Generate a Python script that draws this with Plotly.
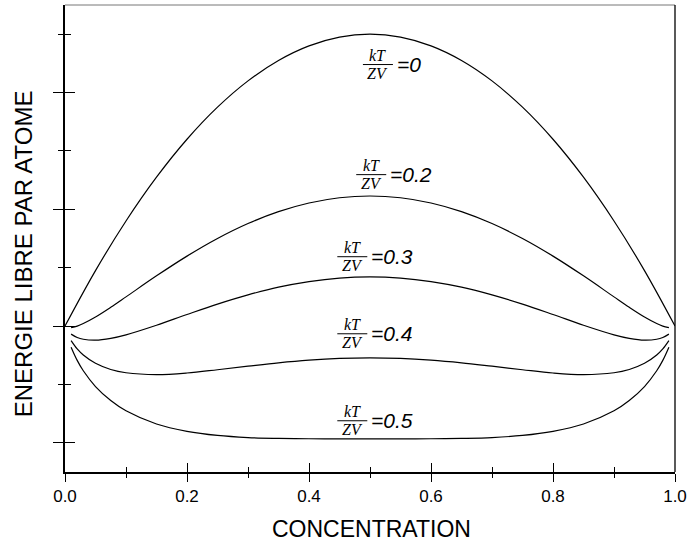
import plotly.graph_objects as go

# ---- data ----
conc = [0.01, 0.02, 0.03, 0.05, 0.075, 0.1, 0.15, 0.2, 0.25, 0.3, 0.35, 0.4, 0.45, 0.5,
        0.55, 0.6, 0.65, 0.7, 0.75, 0.8, 0.85, 0.9, 0.925, 0.95, 0.97, 0.98, 0.99]
conc_t0 = [0.0, 0.05, 0.1, 0.15, 0.2, 0.25, 0.3, 0.35, 0.4, 0.45, 0.5,
           0.55, 0.6, 0.65, 0.7, 0.75, 0.8, 0.85, 0.9, 0.95, 1.0]

energy_t0 = [0.0, 0.0475, 0.09, 0.1275, 0.16, 0.1875, 0.21, 0.2275, 0.24, 0.2475, 0.25,
             0.2475, 0.24, 0.2275, 0.21, 0.1875, 0.16, 0.1275, 0.09, 0.0475, 0.0]
energy_t02 = [-0.0013, 0.0000, 0.0022, 0.0078, 0.0161, 0.0250, 0.0430, 0.0599, 0.0750, 0.0878,
              0.0980, 0.1054, 0.1099, 0.1114, 0.1099, 0.1054, 0.0980, 0.0878, 0.0750, 0.0599,
              0.0430, 0.0250, 0.0161, 0.0078, 0.0022, 0.0000, -0.0013]
energy_t03 = [-0.0069, -0.0098, -0.0113, -0.0121, -0.0105, -0.0075, 0.0007, 0.0099, 0.0188, 0.0267,
              0.0333, 0.0381, 0.0411, 0.0421, 0.0411, 0.0381, 0.0333, 0.0267, 0.0188, 0.0099,
              0.0007, -0.0075, -0.0105, -0.0121, -0.0113, -0.0098, -0.0069]
energy_t04 = [-0.0125, -0.0196, -0.0248, -0.0319, -0.0372, -0.0400, -0.0416, -0.0402, -0.0374, -0.0344,
              -0.0315, -0.0292, -0.0277, -0.0272, -0.0277, -0.0292, -0.0315, -0.0344, -0.0374, -0.0402,
              -0.0416, -0.0400, -0.0372, -0.0319, -0.0248, -0.0196, -0.0125]
energy_t05 = [-0.0181, -0.0294, -0.0383, -0.0518, -0.0638, -0.0726, -0.0839, -0.0902, -0.0937, -0.0955,
              -0.0962, -0.0965, -0.0966, -0.0966, -0.0966, -0.0965, -0.0962, -0.0955, -0.0937, -0.0902,
              -0.0839, -0.0726, -0.0638, -0.0518, -0.0383, -0.0294, -0.0181]

curve_labels = ["0", "0.2", "0.3", "0.4", "0.5"]
x_title = "CONCENTRATION"
y_title = "ENERGIE LIBRE PAR ATOME"

# label anchor positions (fraction centre x, fraction-bar y) in data units
label_pos = [(0.513, 0.224), (0.502, 0.1297), (0.471, 0.0594), (0.471, -0.0066), (0.471, -0.0811)]

series = [(conc_t0, energy_t0), (conc, energy_t02), (conc, energy_t03), (conc, energy_t04), (conc, energy_t05)]

fig = go.Figure()
for xs, ys in series:
    fig.add_trace(go.Scatter(x=xs, y=ys, mode="lines",
                             line=dict(color="black", width=1.2, shape="spline", smoothing=1.0),
                             showlegend=False, hoverinfo="skip"))
# empty trace on overlay axes (used only for inward tick halves)
fig.add_trace(go.Scatter(x=[None], y=[None], xaxis="x2", yaxis="y2", showlegend=False, hoverinfo="skip"))

sans = "Liberation Sans, Arial, sans-serif"
serif = "Liberation Serif, Times New Roman, serif"
XR = [0, 1]
YR = [-0.125, 0.275]

annotations = []
shapes = []
for lab, (fx, by) in zip(curve_labels, label_pos):
    annotations.append(dict(x=fx, y=by, xref="x", yref="y", text="<i>kT</i>", showarrow=False,
                            xanchor="center", yanchor="bottom", yshift=0, borderpad=0,
                            font=dict(family=serif, size=16, color="black")))
    annotations.append(dict(x=fx, y=by, xref="x", yref="y", text="<i>ZV</i>", showarrow=False,
                            xanchor="center", yanchor="top", yshift=1, borderpad=0,
                            font=dict(family=serif, size=16, color="black")))
    annotations.append(dict(x=fx, y=by, xref="x", yref="y", text="<i>=" + lab + "</i>", showarrow=False,
                            xanchor="left", yanchor="middle", xshift=18, borderpad=0,
                            font=dict(family=sans, size=21, color="black")))
    shapes.append(dict(type="line", xref="x", yref="y", xsizemode="pixel", xanchor=fx,
                       x0=-15, x1=15, y0=by, y1=by, line=dict(color="black", width=1)))

# axis titles
annotations.append(dict(x=0.5, y=0, xref="paper", yref="paper", text=x_title, showarrow=False,
                        xanchor="center", yanchor="middle", xshift=1, yshift=-57,
                        font=dict(family=sans, size=23, color="black")))
annotations.append(dict(x=0, y=0.0615, xref="paper", yref="y", text=y_title, showarrow=False,
                        textangle=-90, xanchor="center", yanchor="middle", xshift=-42,
                        font=dict(family=sans, size=24, color="black")))

# frame: top (grey) and right borders
shapes.append(dict(type="line", xref="paper", yref="paper", x0=0, x1=1, y0=1, y1=1,
                   line=dict(color="#777777", width=1)))
shapes.append(dict(type="line", xref="paper", yref="paper", x0=1, x1=1, y0=0, y1=1,
                   line=dict(color="black", width=1.3)))

fig.update_layout(
    width=692, height=543,
    margin=dict(l=65, r=14, t=5, b=71),
    paper_bgcolor="white", plot_bgcolor="white",
    showlegend=False,
    annotations=annotations,
    shapes=shapes,
    xaxis=dict(range=XR, showgrid=False, zeroline=False, showline=True, linecolor="black", linewidth=1.5,
               tickmode="linear", tick0=0, dtick=0.2, tickformat=".1f",
               ticks="outside", ticklen=8, tickwidth=1.2, tickcolor="black",
               minor=dict(dtick=0.1, tick0=0, ticks="outside", ticklen=4, tickwidth=1.2, tickcolor="black"),
               tickfont=dict(family=sans, size=17, color="black")),
    xaxis2=dict(range=XR, overlaying="x", anchor="y", side="bottom", showgrid=False, zeroline=False,
                showline=False, showticklabels=False,
                tickmode="linear", tick0=0, dtick=0.2,
                ticks="inside", ticklen=9, tickwidth=1.2, tickcolor="black",
                minor=dict(dtick=0.1, tick0=0, ticks="inside", ticklen=5, tickwidth=1.2, tickcolor="black")),
    yaxis=dict(range=YR, showgrid=False, zeroline=False, showline=True, linecolor="black", linewidth=1.5,
               tickmode="linear", tick0=0, dtick=0.1, showticklabels=False,
               ticks="outside", ticklen=10, tickwidth=1.2, tickcolor="black",
               minor=dict(dtick=0.05, tick0=0, ticks="outside", ticklen=5, tickwidth=1.2, tickcolor="black")),
    yaxis2=dict(range=YR, overlaying="y", anchor="x", side="left", showgrid=False, zeroline=False,
                showline=False, showticklabels=False,
                tickmode="linear", tick0=0, dtick=0.1,
                ticks="inside", ticklen=10, tickwidth=1.2, tickcolor="black",
                minor=dict(dtick=0.05, tick0=0, ticks="inside", ticklen=6, tickwidth=1.2, tickcolor="black")),
)

fig.write_html("out.html", config={"displayModeBar": False},
               post_script="document.body.style.margin='0';document.body.style.overflow='hidden';")
